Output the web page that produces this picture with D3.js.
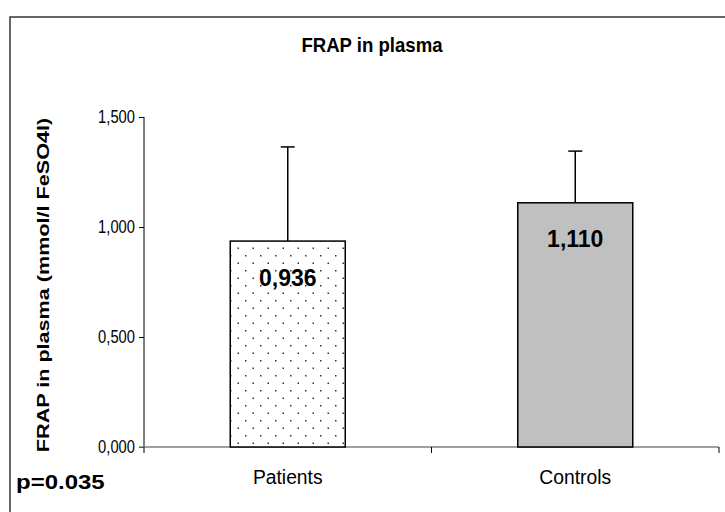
<!DOCTYPE html>
<html>
<head>
<meta charset="utf-8">
<script src="https://cdn.jsdelivr.net/npm/d3@7"></script>
<style>
  body { margin: 0; background: #fff; }
  svg { display: block; font-family: "Liberation Sans", Arial, sans-serif; }
</style>
</head>
<body>
<div id="chart"></div>
<script>
// data
var categories = ["Patients", "Controls"];
var means = [0.936, 1.110];
var sds = [0.428, 0.235];
var yTicks = [0, 0.5, 1.0, 1.5];
var pText = "p=0.035";

var W = 725, H = 512;
var margin = {top: 117, right: 6, bottom: 65, left: 144};
var w = W - margin.left - margin.right,
    h = H - margin.top - margin.bottom;

var loc = d3.formatLocale({decimal: ",", thousands: ".", grouping: [3], currency: ["", ""]});
var fmt = loc.format(".3f");

var svg = d3.select("#chart").append("svg")
    .attr("width", W)
    .attr("height", H);

// dotted fill for patients bar
var defs = svg.append("defs");
var pat = defs.append("pattern")
    .attr("id", "dots")
    .attr("patternUnits", "userSpaceOnUse")
    .attr("width", 15).attr("height", 15)
    .attr("x", margin.left).attr("y", 0);
pat.append("rect").attr("width", 15).attr("height", 15).attr("fill", "#fff");
pat.append("rect").attr("x", 2).attr("y", 3).attr("width", 1.5).attr("height", 1.5).attr("fill", "#333");
pat.append("rect").attr("x", 9.5).attr("y", 10.5).attr("width", 1.5).attr("height", 1.5).attr("fill", "#333");

// outer frame
svg.append("rect")
    .attr("x", 10).attr("y", 17)
    .attr("width", W + 10).attr("height", H + 10)
    .attr("fill", "none")
    .attr("stroke", "#333")
    .attr("stroke-width", 1.5);

// title
svg.append("text")
    .attr("transform", "translate(372,52) scale(0.93,1)")
    .attr("text-anchor", "middle")
    .style("font-size", "20px")
    .style("font-weight", "bold")
    .text("FRAP in plasma");

var g = svg.append("g")
    .attr("transform", "translate(" + margin.left + "," + margin.top + ")");

var x = d3.scaleBand()
    .domain(categories)
    .range([0, w])
    .padding(0);

var y = d3.scaleLinear()
    .domain([0, 1.5])
    .range([h, 0]);

// y axis
var yAxis = g.append("g")
    .call(d3.axisLeft(y).tickValues(yTicks).tickFormat(fmt).tickSize(5).tickPadding(4));
yAxis.select(".domain").attr("stroke", "#000").attr("d", "M0,0V" + h);
yAxis.selectAll("text")
    .style("font-size", "18px")
    .attr("fill", "#000")
    .attr("x", -9 / 0.82)
    .attr("transform", "scale(0.82,1)");

// x axis
var xAxis = g.append("g")
    .attr("transform", "translate(0," + h + ")");
xAxis.append("line")
    .attr("x1", -5).attr("x2", w)
    .attr("stroke", "#808080").attr("stroke-width", 1.5);
var bounds = [0].concat(categories.map(function(c) { return x(c) + x.bandwidth(); }));
xAxis.selectAll(".tk")
    .data(bounds)
    .enter().append("line")
    .attr("x1", function(d) { return d; })
    .attr("x2", function(d) { return d; })
    .attr("y1", 0).attr("y2", 6)
    .attr("stroke", "#000");
xAxis.selectAll(".lbl")
    .data(categories)
    .enter().append("text")
    .attr("transform", function(d) {
      return "translate(" + (x(d) + x.bandwidth() / 2) + ",37) scale(0.92,1)";
    })
    .attr("text-anchor", "middle")
    .style("font-size", "21px")
    .text(function(d) { return d; });

// bars
var bw = x.bandwidth() * 0.4;
var fills = ["url(#dots)", "#c0c0c0"];

var bars = g.selectAll(".bar")
    .data(categories)
    .enter().append("g");

// error bars
bars.append("line")
    .attr("x1", function(d) { return x(d) + x.bandwidth() / 2; })
    .attr("x2", function(d) { return x(d) + x.bandwidth() / 2; })
    .attr("y1", function(d, i) { return y(means[i]); })
    .attr("y2", function(d, i) { return y(means[i] + sds[i]); })
    .attr("stroke", "#000").attr("stroke-width", 1.5);
bars.append("line")
    .attr("x1", function(d) { return x(d) + x.bandwidth() / 2 - 7; })
    .attr("x2", function(d) { return x(d) + x.bandwidth() / 2 + 7; })
    .attr("y1", function(d, i) { return y(means[i] + sds[i]); })
    .attr("y2", function(d, i) { return y(means[i] + sds[i]); })
    .attr("stroke", "#000").attr("stroke-width", 1.5);

bars.append("rect")
    .attr("x", function(d) { return x(d) + (x.bandwidth() - bw) / 2; })
    .attr("y", function(d, i) { return y(means[i]); })
    .attr("width", bw)
    .attr("height", function(d, i) { return h - y(means[i]); })
    .attr("fill", function(d, i) { return fills[i]; })
    .attr("stroke", "#000")
    .attr("stroke-width", 1.5);

bars.append("text")
    .attr("x", function(d) { return x(d) + x.bandwidth() / 2; })
    .attr("y", function(d, i) { return y(means[i]) + 44.5; })
    .attr("text-anchor", "middle")
    .style("font-size", "23px")
    .style("font-weight", "bold")
    .text(function(d, i) { return fmt(means[i]); });

// y axis title
svg.append("text")
    .attr("transform", "translate(49,285) scale(0.8,1) rotate(-90)")
    .attr("text-anchor", "middle")
    .style("font-size", "21.6px")
    .style("font-weight", "bold")
    .text("FRAP in plasma (mmol/l FeSO4l)");

// p value
svg.append("text")
    .attr("transform", "translate(16,489) scale(1.2,1)")
    .style("font-size", "20px")
    .style("font-weight", "bold")
    .text(pText);
</script>
</body>
</html>
